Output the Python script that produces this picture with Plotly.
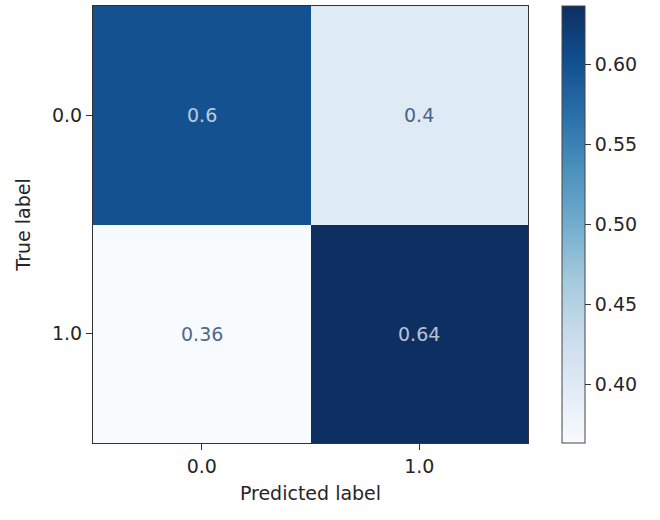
import plotly.graph_objects as go

classes = ["0.0", "1.0"]
z = [[0.6, 0.4],
     [0.3636, 0.6364]]
cbar_ticks = [0.40, 0.45, 0.50, 0.55, 0.60]

# matplotlib / colorbrewer "Blues", slightly desaturated to match the reference rendering
blues = [(247, 251, 255), (222, 235, 247), (198, 219, 239), (158, 202, 225),
         (107, 174, 214), (66, 146, 198), (33, 113, 181), (8, 81, 156), (8, 48, 107)]


def desat(c, k=0.15):
    lum = 0.2126 * c[0] + 0.7152 * c[1] + 0.0722 * c[2]
    return tuple(round(v + k * (lum - v)) for v in c)


cscale = [[i / (len(blues) - 1), "rgb(%d,%d,%d)" % desat(c)] for i, c in enumerate(blues)]

zmin = min(min(r) for r in z)
zmax = max(max(r) for r in z)
mid = (zmin + zmax) / 2

FONT = "DejaVu Sans"
FS = 19

fig = go.Figure()
fig.add_trace(go.Heatmap(
    z=z, x=[0, 1], y=[0, 1],
    colorscale=cscale, zmin=zmin, zmax=zmax,
    showscale=True,
    colorbar=dict(
        x=(562 - 93) / 435, xanchor="left", xpad=0,
        y=0.5, yanchor="middle", len=1, lenmode="fraction", ypad=0,
        thickness=23, outlinewidth=1, outlinecolor="#444",
        ticks="outside", ticklen=6, tickcolor="#333",
        tickvals=cbar_ticks, ticktext=[f"{v:.2f}" for v in cbar_ticks],
        tickfont=dict(family=FONT, size=FS, color="#262626"),
    ),
    hoverinfo="z",
))

lo = "rgb(%d,%d,%d)" % desat(blues[0])
hi = "rgb(%d,%d,%d)" % desat(blues[-1])
for i, row in enumerate(z):
    for j, v in enumerate(row):
        col = lo if v > mid else hi
        fig.add_annotation(x=j, y=i, text=f"{v:.2g}", showarrow=False,
                           font=dict(family=FONT, size=FS, color=col),
                           opacity=0.72)

axis_common = dict(
    showline=True, linecolor="#333", linewidth=1, mirror=True,
    ticks="outside", ticklen=6, tickcolor="#333",
    tickfont=dict(family=FONT, size=FS, color="#262626"),
    showgrid=False, zeroline=False,
)
fig.update_xaxes(tickvals=[0, 1], ticktext=classes, range=[-0.5, 1.5],
                 title=dict(text="Predicted label", standoff=10,
                            font=dict(family=FONT, size=FS, color="#262626")),
                 **axis_common)
fig.update_yaxes(tickvals=[0, 1], ticktext=classes, range=[1.5, -0.5],
                 title=dict(text="True label", standoff=16,
                            font=dict(family=FONT, size=FS, color="#262626")),
                 **axis_common)

fig.update_layout(
    width=660, height=520,
    margin=dict(l=93, r=132, t=6, b=77),
    paper_bgcolor="white", plot_bgcolor="white",
    showlegend=False,
)
fig.write_html("out.html")
